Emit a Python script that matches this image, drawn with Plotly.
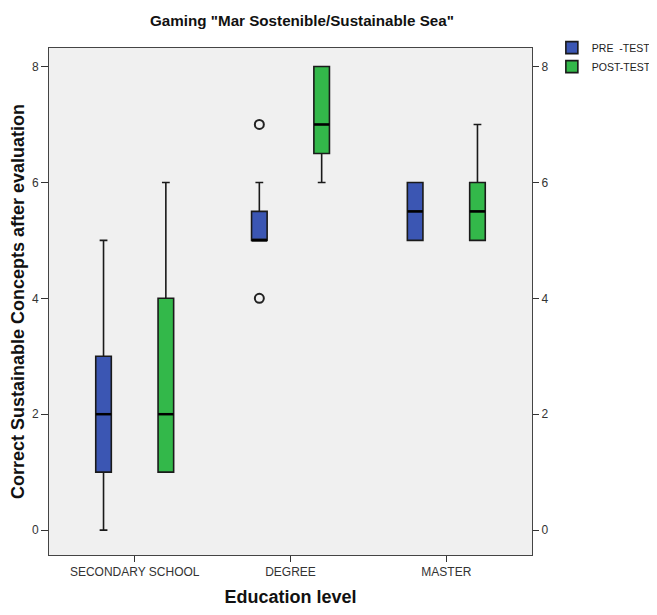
import plotly.graph_objects as go

categories = ["SECONDARY SCHOOL", "DEGREE", "MASTER"]
series = ["PRE  -TEST", "POST-TEST"]

pre_q1 = [1, 5, 5]
pre_median = [2, 5, 5.5]
pre_q3 = [3, 5.5, 6]
pre_low = [0, 5, 5]
pre_high = [5, 6, 6]
pre_outliers = {"DEGREE": [4, 7]}

post_q1 = [1, 6.5, 5]
post_median = [2, 7, 5.5]
post_q3 = [4, 8, 6]
post_low = [1, 6, 5]
post_high = [6, 8, 7]
post_outliers = {}

y_ticks = [0, 2, 4, 6, 8]

colors = ["#3b56b3", "#33b84a"]
offsets = [-0.2, 0.2]
box_w = 0.1

fig = go.Figure()
data = [
    (pre_q1, pre_median, pre_q3, pre_low, pre_high, pre_outliers),
    (post_q1, post_median, post_q3, post_low, post_high, post_outliers),
]
for k, (q1, med, q3, lo, hi, outl) in enumerate(data):
    xs = [i + offsets[k] for i in range(len(categories))]
    fig.add_trace(go.Box(
        x=xs, q1=q1, median=med, q3=q3, lowerfence=lo, upperfence=hi,
        name=series[k], width=box_w, whiskerwidth=0.5,
        fillcolor=colors[k], line=dict(color="#1a1a1a", width=1.6),
        boxpoints=False, showlegend=True,
    ))
    # thicker median line
    fig.add_trace(go.Scatter(
        x=xs, y=med, mode="markers",
        marker=dict(symbol="line-ew", size=11, line=dict(color="#000000", width=2.5)),
        showlegend=False, hoverinfo="skip",
    ))
    ox, oy = [], []
    for cat, vals in outl.items():
        i = categories.index(cat)
        for v in vals:
            ox.append(i + offsets[k])
            oy.append(v)
    if ox:
        fig.add_trace(go.Scatter(
            x=ox, y=oy, mode="markers",
            marker=dict(symbol="circle-open", size=9, color="#222222", line=dict(width=2)),
            showlegend=False,
        ))

# dummy for right axis
fig.add_trace(go.Scatter(x=[None], y=[None], yaxis="y2", showlegend=False))

yr = [-0.43, 8.32]
font_tick = dict(family="Liberation Sans, Arial", size=12, color="#333333")
fig.update_layout(
    width=649, height=599,
    margin=dict(l=41, r=125, t=40, b=52, autoexpand=False),
    paper_bgcolor="white", plot_bgcolor="#f0f0f0",
    font=dict(family="Liberation Sans, Arial", color="#222222"),
    title=dict(text='<b>Gaming "Mar Sostenible/Sustainable Sea"</b>',
               x=0.453, xanchor="center", y=0.978, yanchor="middle",
               font=dict(size=15.2, color="#111111")),
    boxmode="overlay",
    xaxis=dict(range=[-0.55, 2.55], tickvals=list(range(len(categories))), ticktext=categories,
               ticks="outside", ticklen=6, tickcolor="#333333", showgrid=False, zeroline=False,
               showline=True, linecolor="#444444", linewidth=1, mirror=True, automargin=False,
               tickfont=font_tick,
               title=dict(text="<b>Education level</b>", font=dict(size=18, color="#111111"), standoff=15)),
    yaxis=dict(range=yr, tickvals=y_ticks, ticks="outside", ticklen=7, tickcolor="#333333",
               showgrid=False, zeroline=False, showline=True, linecolor="#444444", linewidth=1,
               mirror=True, automargin=False, tickfont=font_tick,
               title=dict(text="<b>Correct Sustainable Concepts after evaluation</b>",
                          font=dict(size=18, color="#111111"), standoff=9)),
    yaxis2=dict(range=yr, tickvals=y_ticks, ticks="outside", ticklen=6, tickcolor="#333333",
                overlaying="y", side="right", showgrid=False, zeroline=False, showline=False,
                automargin=False, tickfont=font_tick),
    legend=dict(xref="container", yref="container", x=0.838, y=0.958, xanchor="left", yanchor="top",
                bgcolor="rgba(0,0,0,0)", font=dict(size=10.5, color="#222222"),
                tracegroupgap=0, itemwidth=30),
)

fig.write_html("out.html")
